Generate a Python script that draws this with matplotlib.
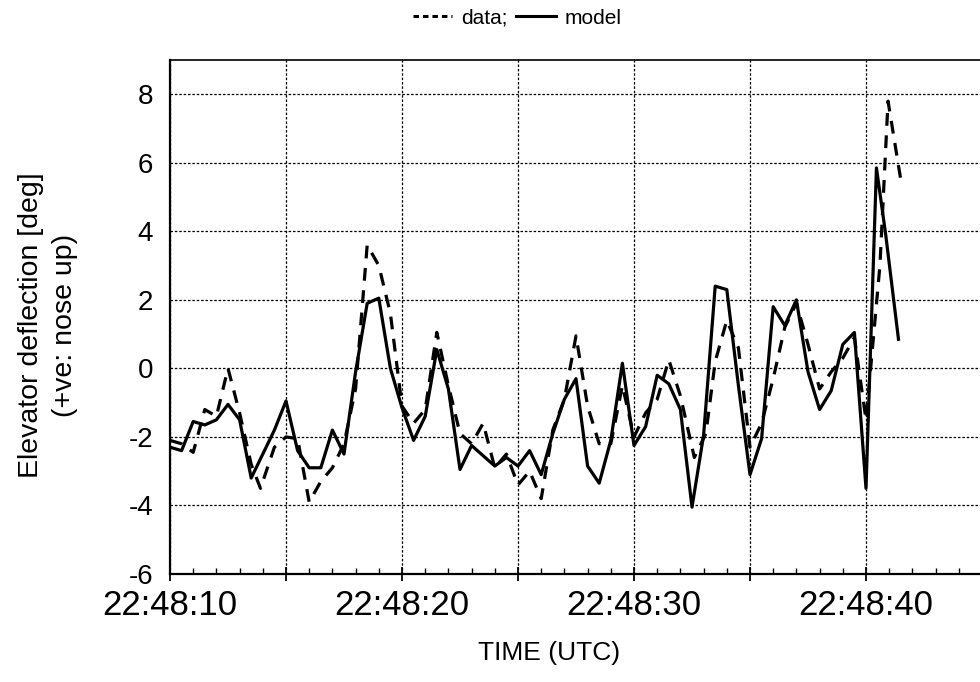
import matplotlib
matplotlib.use('Agg')
import matplotlib.pyplot as plt
from matplotlib.lines import Line2D
from matplotlib.ticker import MultipleLocator, FuncFormatter

plt.rcParams['font.family'] = ['Liberation Sans', 'DejaVu Sans']

# seconds after 22:48:10 (UTC)
t_model = [0.0, 0.5, 1.0, 1.5, 2.0, 2.5, 3.0, 3.5, 4.0, 4.5, 5.0, 5.5, 6.0, 6.5, 7.0, 7.5,
           8.0, 8.5, 9.0, 9.5, 10.0, 10.5, 11.0, 11.5, 12.0, 12.5, 13.0, 13.5, 14.0, 14.5,
           15.0, 15.5, 16.0, 16.5, 17.0, 17.5, 18.0, 18.5, 19.0, 19.5, 20.0, 20.5, 21.0,
           21.5, 22.0, 22.5, 23.0, 23.5, 24.0, 24.5, 25.0, 25.5, 26.0, 26.5, 27.0, 27.5,
           28.0, 28.5, 29.0, 29.5, 30.0, 30.45, 30.85, 31.4]
model = [-2.3, -2.4, -1.55, -1.65, -1.5, -1.05, -1.5, -3.2, -2.5, -1.8, -0.95, -2.4, -2.9,
         -2.9, -1.8, -2.5, -0.1, 1.9, 2.05, 0.0, -1.15, -2.1, -1.4, 0.55, -0.6, -2.95, -2.25,
         -2.55, -2.85, -2.6, -2.85, -2.4, -3.1, -1.9, -0.9, -0.3, -2.85, -3.35, -2.1, 0.15,
         -2.25, -1.7, -0.2, -0.45, -1.2, -4.05, -1.95, 2.4, 2.3, -0.5, -3.1, -2.05, 1.8, 1.25,
         2.0, -0.1, -1.2, -0.65, 0.7, 1.05, -3.5, 5.85, 3.9, 0.85]

t_data = [0.0, 0.5, 1.0, 1.5, 2.0, 2.5, 3.0, 3.5, 3.9, 4.5, 5.0, 5.5, 6.0, 6.5, 7.0, 7.5,
          8.0, 8.5, 9.0, 9.5, 10.0, 10.5, 11.0, 11.5, 12.0, 12.5, 13.0, 13.5, 14.0, 14.5,
          15.0, 15.5, 16.0, 16.5, 17.0, 17.5, 18.0, 18.5, 19.0, 19.5, 20.0, 20.5, 21.0,
          21.5, 22.0, 22.6, 23.1, 23.5, 24.0, 24.5, 25.0, 25.5, 26.0, 26.5, 27.0, 27.5,
          28.0, 28.5, 29.0, 29.5, 30.0, 30.6, 30.95, 31.5]
data = [-2.1, -2.2, -2.45, -1.2, -1.4, 0.0, -1.3, -2.8, -3.5, -2.3, -2.0, -2.05, -3.9, -3.3,
        -2.9, -2.2, -0.6, 3.6, 3.0, 1.6, -1.1, -1.6, -1.2, 1.05, -0.5, -1.9, -2.2, -1.6, -2.9,
        -2.5, -3.4, -3.0, -3.8, -1.8, -0.9, 0.95, -1.1, -2.2, -2.2, -0.5, -2.0, -1.3, -0.9,
        0.25, -0.8, -2.6, -1.9, 0.2, 1.4, 0.6, -2.3, -1.6, -0.3, 1.2, 1.9, 0.7, -0.6, -0.1,
        0.3, 0.9, -1.5, 3.0, 7.8, 5.5]

fig = plt.figure(figsize=(9.8, 6.82), dpi=100)
ax = fig.add_axes([170 / 980, 108 / 682, 812 / 980, 514 / 682])

ax.plot(t_data, data, color='black', lw=2.3, dashes=(4, 3))
ax.plot(t_model, model, color='black', lw=2.3)

ax.set_xlim(0, 35)
ax.set_ylim(-6, 9)

# ticks and grid
ax.xaxis.set_major_locator(MultipleLocator(5))
ax.xaxis.set_minor_locator(MultipleLocator(1))
ax.yaxis.set_major_locator(MultipleLocator(2))
ax.xaxis.set_major_formatter(FuncFormatter(
    lambda v, p: '22:48:%02d' % (10 + v) if round(v) % 10 == 0 else ''))
ax.yaxis.set_major_formatter(FuncFormatter(lambda v, p: '%d' % v))
ax.tick_params(axis='x', which='major', direction='inout', length=10, width=1.3,
               labelsize=25, pad=6)
ax.tick_params(axis='x', which='minor', direction='in', length=4, width=1)
ax.tick_params(axis='y', length=0, labelsize=20, pad=12)
ax.grid(True, which='major', color='black', lw=0.9, linestyle=(0, (2, 1.5)))

for s in ['left', 'bottom']:
    ax.spines[s].set_linewidth(1.6)
ax.spines['top'].set_linewidth(1.2)

# axis titles
fig.text(549 / 980, 1 - 653 / 682, 'TIME (UTC)', fontsize=19, ha='center', va='center')
fig.text(48 / 980, 1 - 325 / 682, 'Elevator deflection [deg]\n(+ve: nose up)',
         fontsize=20.5, rotation=90, ha='center', va='center', multialignment='center',
         linespacing=1.35)

# legend at the top
handles = [Line2D([], [], color='black', lw=2.2, dashes=(1.8, 1.3)),
           Line2D([], [], color='black', lw=2.2)]
fig.legend(handles, ['data;', 'model'], loc='center', bbox_to_anchor=(517 / 980, 1 - 18 / 682),
           ncol=2, frameon=False, fontsize=15, handlelength=1.9, handletextpad=0.4,
           columnspacing=0.45)

plt.savefig('out.png', dpi=100)
